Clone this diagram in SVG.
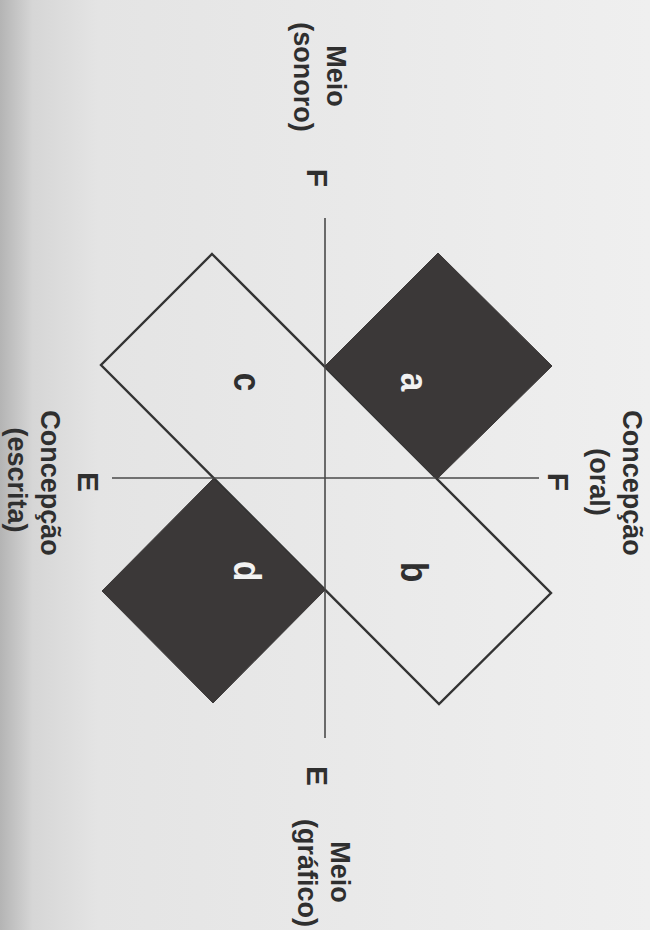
<svg xmlns="http://www.w3.org/2000/svg" width="650" height="930" viewBox="0 0 650 930">
<defs>
<linearGradient id="paper" x1="0" y1="0" x2="1" y2="0">
<stop offset="0" stop-color="#b4b4b4"/>
<stop offset="0.05" stop-color="#d6d6d6"/>
<stop offset="0.15" stop-color="#e4e4e4"/>
<stop offset="1" stop-color="#efefef"/>
</linearGradient>
</defs>
<style>
.lbl{font-family:"Liberation Sans",Arial,sans-serif;font-weight:bold;fill:#2f2f2f;text-anchor:middle}
.axisL{font-size:30px}
.cap{font-size:27px}
.let{font-size:39px}
.inv{fill:#f2f2f2}
.dark{fill:#3b3838;stroke:#3b3838;stroke-width:1}
.axis{stroke:#4a4a4a;stroke-width:1.6;fill:none}
.strip{fill:none;stroke:#333;stroke-width:2.4;stroke-linejoin:miter}
</style>
<rect x="0" y="0" width="650" height="930" fill="url(#paper)"/>

<g id="strip">
<polygon class="strip" points="212,254 551,593 439,704 101,365"/>
</g>

<g id="connectors">
<line class="axis" x1="112" y1="478" x2="539" y2="478"/>
<line class="axis" x1="325" y1="218" x2="325" y2="738"/>
</g>

<g id="node-a">
<polygon class="dark" points="438,253 552,366 437,479 325,366"/>
<text class="lbl let inv" transform="translate(401,382) rotate(90) scale(0.85,1)">a</text>
</g>

<g id="node-d">
<polygon class="dark" points="213,479 325,590 213,703 102,591"/>
<text class="lbl let inv" transform="translate(234,571) rotate(90) scale(0.85,1)">d</text>
</g>

<g id="node-b">
<text class="lbl let" transform="translate(401,572) rotate(90) scale(0.85,1)">b</text>
</g>

<g id="node-c">
<text class="lbl let" transform="translate(234,382) rotate(90) scale(0.85,1)">c</text>
</g>

<g id="label-F-right">
<text class="lbl axisL" transform="translate(548,482) rotate(90)">F</text>
</g>
<g id="label-E-left">
<text class="lbl axisL" transform="translate(78,482) rotate(90)">E</text>
</g>
<g id="label-F-top">
<text class="lbl axisL" transform="translate(307,178) rotate(90)">F</text>
</g>
<g id="label-E-bottom">
<text class="lbl axisL" transform="translate(307,776) rotate(90)">E</text>
</g>

<g id="label-concepcao-oral">
<text class="lbl cap" transform="translate(623,483) rotate(90)">Concepção</text>
<text class="lbl cap" transform="translate(590,482) rotate(90)">(oral)</text>
</g>
<g id="label-concepcao-escrita">
<text class="lbl cap" transform="translate(41,483) rotate(90)">Concepção</text>
<text class="lbl cap" transform="translate(8,480) rotate(90)">(escrita)</text>
</g>
<g id="label-meio-sonoro">
<text class="lbl cap" transform="translate(327,76) rotate(90)">Meio</text>
<text class="lbl cap" transform="translate(294,77) rotate(90)">(sonoro)</text>
</g>
<g id="label-meio-grafico">
<text class="lbl cap" transform="translate(331,872) rotate(90)">Meio</text>
<text class="lbl cap" transform="translate(298,873) rotate(90)">(gráfico)</text>
</g>
</svg>
